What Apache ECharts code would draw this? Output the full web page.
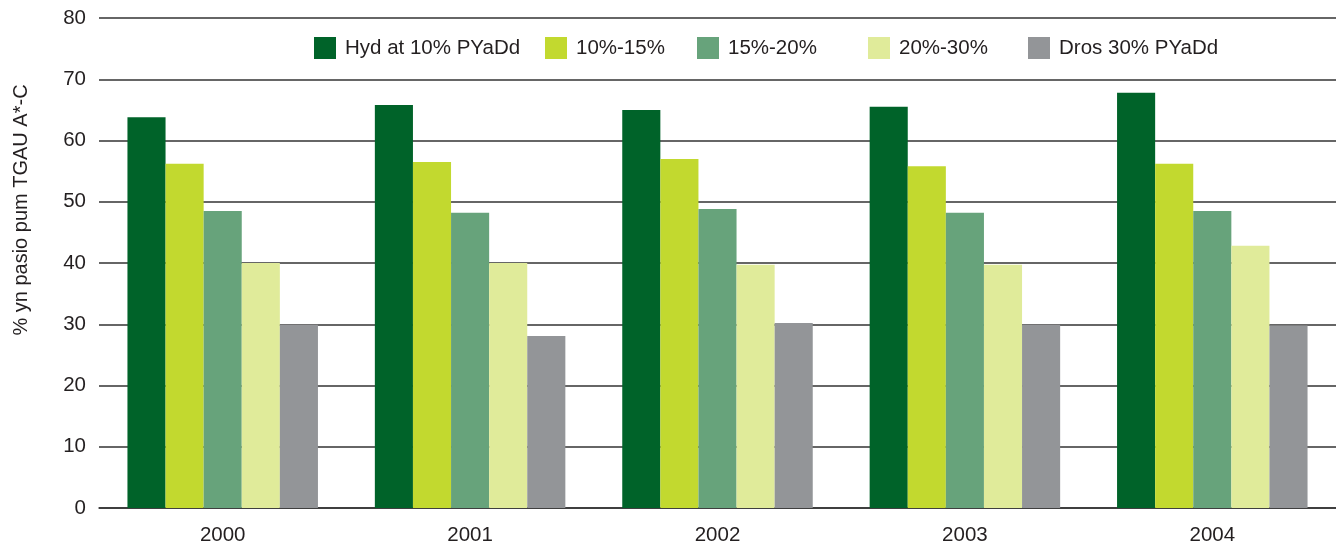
<!DOCTYPE html>
<html>
  <head>
    <meta charset="utf-8" />
    <title>TGAU A*-C</title>
    <script src="https://cdn.jsdelivr.net/npm/echarts@6/dist/echarts.min.js"></script>
    <style>
      body {
        margin: 0;
        padding: 0;
        background: #fff;
      }
      #main {
        width: 1336px;
        height: 547px;
      }
    </style>
  </head>
  <body>
    <div id="main"></div>
    <script type="text/javascript">
      var years = ["2000", "2001", "2002", "2003", "2004"];
      var seriesNames = ["Hyd at 10% PYaDd", "10%-15%", "15%-20%", "20%-30%", "Dros 30% PYaDd"];
      var hydAt10 = [63.8, 65.8, 65.0, 65.5, 67.8];
      var band10to15 = [56.2, 56.5, 57.0, 55.8, 56.2];
      var band15to20 = [48.5, 48.2, 48.8, 48.2, 48.5];
      var band20to30 = [40.0, 40.0, 39.7, 39.7, 42.8];
      var dros30 = [29.9, 28.1, 30.2, 29.9, 29.8];
      var colors = ["#006329", "#c2d92f", "#67a37b", "#e0eb9a", "#939598"];
      var legendLefts = [314, 545, 697, 868, 1028];

      var myChart = echarts.init(document.getElementById("main"));
      var allValues = [hydAt10, band10to15, band15to20, band20to30, dros30];
      var fontFamily = "'Liberation Sans', Arial, sans-serif";

      var option = {
        animation: false,
        textStyle: { fontFamily: fontFamily },
        grid: { left: 99, right: 0, top: 18, bottom: 39 },
        legend: seriesNames.map(function (name, i) {
          return {
            data: [name],
            left: legendLefts[i],
            top: 37,
            padding: 0,
            itemWidth: 22,
            itemHeight: 22,
            icon: "rect",
            textStyle: {
              fontSize: 20.5,
              color: "#231f20",
              fontFamily: fontFamily,
              padding: [0, 0, 0, 4]
            }
          };
        }),
        xAxis: {
          type: "category",
          data: years,
          axisLine: { lineStyle: { color: "#333", width: 1.5 } },
          axisTick: { show: false },
          axisLabel: { fontSize: 20.5, color: "#231f20", margin: 17 }
        },
        yAxis: {
          type: "value",
          min: 0,
          max: 80,
          interval: 10,
          name: "% yn pasio pum TGAU A*-C",
          nameLocation: "middle",
          nameGap: 68,
          nameTextStyle: {
            fontSize: 20,
            color: "#231f20",
            padding: [0, 0, 0, 106]
          },
          axisLine: { show: false },
          axisTick: { show: false },
          axisLabel: { fontSize: 20.5, color: "#231f20", margin: 13 },
          splitLine: { lineStyle: { color: "#333", width: 1.5 } }
        },
        series: seriesNames.map(function (name, i) {
          return {
            name: name,
            type: "bar",
            data: allValues[i],
            barGap: 0,
            barCategoryGap: "23%",
            itemStyle: { color: colors[i] }
          };
        })
      };

      myChart.setOption(option);
    </script>
  </body>
</html>
